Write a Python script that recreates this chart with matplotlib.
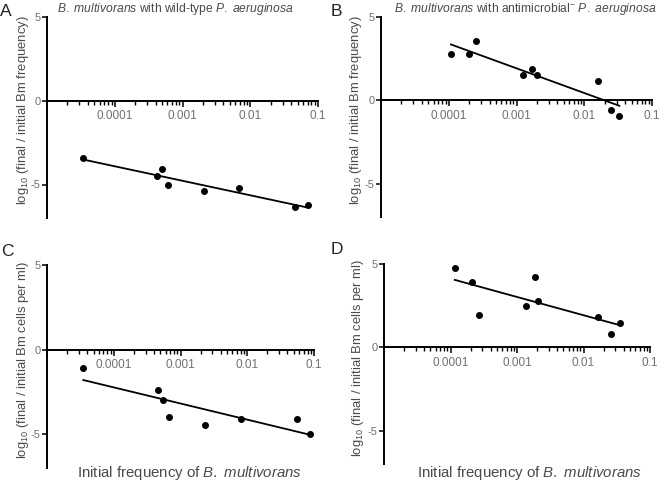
import matplotlib
matplotlib.use("Agg")
import matplotlib.pyplot as plt
from matplotlib.ticker import FixedLocator, NullFormatter
import numpy as np

plt.rcParams['font.family'] = ['Liberation Sans', 'DejaVu Sans']
plt.rcParams['mathtext.fontset'] = 'custom'
plt.rcParams['mathtext.rm'] = 'Liberation Sans'
plt.rcParams['mathtext.it'] = 'Liberation Sans:italic'
plt.rcParams['axes.unicode_minus'] = False

# Initial frequency of B. multivorans (x) and log10 change (y)
a_freq = [3.35e-5, 4.2e-4, 5.0e-4, 6.2e-4, 2.05e-3, 6.9e-3, 0.046, 0.071]
a_change = [-3.41, -4.5, -4.07, -5.04, -5.38, -5.22, -6.37, -6.23]

b_freq = [1.08e-4, 2.0e-4, 2.5e-4, 1.26e-3, 1.71e-3, 2.0e-3, 0.0158, 0.0246, 0.033]
b_change = [2.77, 2.75, 3.55, 1.49, 1.89, 1.53, 1.16, -0.6, -0.92]

c_freq = [3.5e-5, 4.6e-4, 5.5e-4, 6.8e-4, 2.3e-3, 8.1e-3, 0.056, 0.087]
c_change = [-1.11, -2.36, -2.99, -3.98, -4.45, -4.13, -4.09, -5.0]

d_freq = [1.16e-4, 2.13e-4, 2.65e-4, 1.36e-3, 1.84e-3, 2.06e-3, 0.0166, 0.0262, 0.0357]
d_change = [4.78, 3.94, 1.94, 2.48, 4.2, 2.78, 1.84, 0.82, 1.44]

x_ticks = [1e-4, 1e-3, 1e-2, 1e-1]
x_ticklabels = ['0.0001', '0.001', '0.01', '0.1']
y_ticks = [5, 0, -5]

title_a = r"$\it{B.\ multivorans}$ with wild-type $\it{P.\ aeruginosa}$"
title_b = r"$\it{B.\ multivorans}$ with antimicrobial$^{-}$ $\it{P.\ aeruginosa}$"
ylabel_freq = r"log$_{10}$ (final / initial Bm frequency)"
ylabel_cells = r"log$_{10}$ (final / initial Bm cells per ml)"
xlabel = r"Initial frequency of $\it{B.\ multivorans}$"

W, H = 660, 482
fig = plt.figure(figsize=(W / 100, H / 100), dpi=100)

text_col = '#4a4a4a'
tick_col = '#707070'


def add_panel(x0, x1, top, bottom, freq, change):
    ax = fig.add_axes([x0 / W, 1 - bottom / H, (x1 - x0) / W, (bottom - top) / H])
    ax.set_xscale('log')
    ax.set_xlim(1e-5, 0.1)
    ax.set_ylim(-7, 5)
    ax.patch.set_alpha(0)

    for s in ['top', 'right']:
        ax.spines[s].set_visible(False)
    ax.spines['bottom'].set_position(('data', 0))
    ax.spines['left'].set_linewidth(1.4)
    ax.spines['bottom'].set_linewidth(1.4)

    ax.xaxis.set_major_locator(FixedLocator(x_ticks))
    ax.set_xticklabels(x_ticklabels)
    minors = [m * 10.0 ** e for e in range(-5, -1) for m in range(2, 10)]
    ax.xaxis.set_minor_locator(FixedLocator(minors))
    ax.xaxis.set_minor_formatter(NullFormatter())
    ax.set_yticks(y_ticks)

    ax.tick_params(axis='x', which='major', direction='out', length=4,
                   width=1.1, labelsize=8.5, labelcolor=tick_col, pad=3)
    ax.tick_params(axis='y', which='major', direction='out', length=3.5,
                   width=1.1, labelsize=8, labelcolor=tick_col, pad=1)
    ax.tick_params(axis='x', which='minor', direction='out', length=3, width=1.0)

    ax.plot(freq, change, 'o', color='black', markersize=4, zorder=3)

    # least-squares fit on log10 frequency
    lx = np.log10(freq)
    slope, icpt = np.polyfit(lx, change, 1)
    xs = np.array([lx.min(), lx.max()])
    ax.plot(10 ** xs, slope * xs + icpt, color='black', linewidth=1.3)
    return ax


ax_a = add_panel(47, 318, 17, 218, a_freq, a_change)
ax_b = add_panel(381, 652, 17, 217, b_freq, b_change)
ax_c = add_panel(47, 314, 265, 468, c_freq, c_change)
ax_d = add_panel(384, 650, 264, 464, d_freq, d_change)

# panel letters and titles
for letter, px, py in [('A', 0, 11), ('B', 331, 11), ('C', 1, 251), ('D', 331, 249)]:
    fig.text(px / W, 1 - py / H, letter, fontsize=12.5, color='#222222', va='center', ha='left')

fig.text(57 / W, 1 - 9 / H, title_a, fontsize=8.7, color=text_col, va='center', ha='left')
fig.text(394 / W, 1 - 9 / H, title_b, fontsize=8.7, color=text_col, va='center', ha='left')

# y labels
for lab, px, py in [(ylabel_freq, 23, 110), (ylabel_freq, 356, 110),
                    (ylabel_cells, 23, 360), (ylabel_cells, 358, 358)]:
    fig.text(px / W, 1 - py / H, lab, fontsize=9.4, color=text_col, rotation=90,
             va='center', ha='center')

# x labels
fig.text(190 / W, 1 - 473 / H, xlabel, fontsize=10.8, color=text_col, va='center', ha='center')
fig.text(530 / W, 1 - 473 / H, xlabel, fontsize=10.8, color=text_col, va='center', ha='center')

fig.savefig('out.png', dpi=100)
